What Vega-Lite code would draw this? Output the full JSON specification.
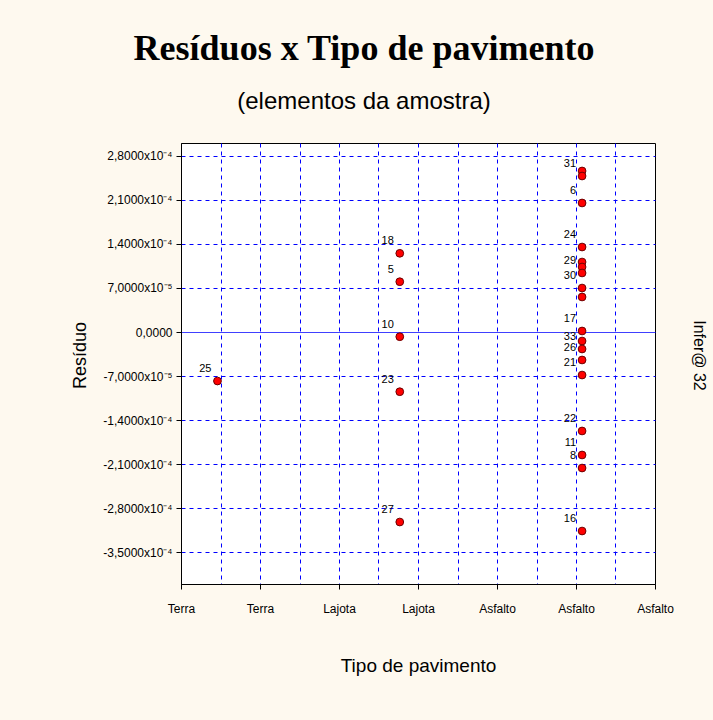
{
  "$schema": "https://vega.github.io/schema/vega-lite/v6.json",
  "autosize": "none",
  "width": 474,
  "height": 441,
  "padding": {"left": 181, "top": 143, "right": 58, "bottom": 136},
  "background": "#FEF9EF",
  "title": {
    "text": "Resíduos x Tipo de pavimento",
    "subtitle": "(elementos da amostra)",
    "anchor": "middle",
    "frame": "group",
    "dx": -54,
    "offset": 28,
    "font": "Liberation Serif",
    "fontSize": 36,
    "fontWeight": "bold",
    "color": "#000000",
    "subtitleFont": "Liberation Sans",
    "subtitleFontSize": 24,
    "subtitleColor": "#000000",
    "subtitlePadding": 22
  },
  "config": {
    "view": {"stroke": "#000000", "strokeWidth": 1, "fill": "#FFFFFF"},
    "axis": {"labelFont": "Liberation Sans", "titleFont": "Liberation Sans", "labelColor": "#000000", "titleColor": "#000000", "titleFontWeight": "normal"}
  },
  "data": {
    "values": [
      {"id": "25", "tipo": "Terra", "codigo": 1, "residuo": -7.78e-5},
      {"id": "18", "tipo": "Lajota", "codigo": 2, "residuo": 1.249e-4},
      {"id": "5", "tipo": "Lajota", "codigo": 2, "residuo": 7.98e-5},
      {"id": "10", "tipo": "Lajota", "codigo": 2, "residuo": -7.5e-6},
      {"id": "23", "tipo": "Lajota", "codigo": 2, "residuo": -9.48e-5},
      {"id": "27", "tipo": "Lajota", "codigo": 2, "residuo": -3.016e-4},
      {"id": "", "tipo": "Asfalto", "codigo": 3, "residuo": 2.556e-4},
      {"id": "31", "tipo": "Asfalto", "codigo": 3, "residuo": 2.476e-4},
      {"id": "6", "tipo": "Asfalto", "codigo": 3, "residuo": 2.048e-4},
      {"id": "24", "tipo": "Asfalto", "codigo": 3, "residuo": 1.349e-4},
      {"id": "", "tipo": "Asfalto", "codigo": 3, "residuo": 1.111e-4},
      {"id": "", "tipo": "Asfalto", "codigo": 3, "residuo": 1.032e-4},
      {"id": "29", "tipo": "Asfalto", "codigo": 3, "residuo": 9.37e-5},
      {"id": "30", "tipo": "Asfalto", "codigo": 3, "residuo": 6.98e-5},
      {"id": "", "tipo": "Asfalto", "codigo": 3, "residuo": 5.56e-5},
      {"id": "17", "tipo": "Asfalto", "codigo": 3, "residuo": 1.6e-6},
      {"id": "", "tipo": "Asfalto", "codigo": 3, "residuo": -1.43e-5},
      {"id": "33", "tipo": "Asfalto", "codigo": 3, "residuo": -2.7e-5},
      {"id": "26", "tipo": "Asfalto", "codigo": 3, "residuo": -4.44e-5},
      {"id": "21", "tipo": "Asfalto", "codigo": 3, "residuo": -6.83e-5},
      {"id": "22", "tipo": "Asfalto", "codigo": 3, "residuo": -1.571e-4},
      {"id": "11", "tipo": "Asfalto", "codigo": 3, "residuo": -1.952e-4},
      {"id": "8", "tipo": "Asfalto", "codigo": 3, "residuo": -2.159e-4},
      {"id": "16", "tipo": "Asfalto", "codigo": 3, "residuo": -3.159e-4}
    ]
  },
  "layer": [
    {
      "mark": {"type": "point", "filled": true, "shape": "circle", "size": 60, "fill": "#FF0000", "stroke": "#6B0000", "strokeWidth": 1, "opacity": 1},
      "encoding": {
        "x": {
          "field": "codigo",
          "type": "quantitative",
          "scale": {"domain": [0.8, 3.4], "nice": false, "zero": false},
          "axis": {
            "values": [0.8, 1.016667, 1.233333, 1.45, 1.666667, 1.883333, 2.1, 2.316667, 2.533333, 2.75, 2.966667, 3.183333, 3.4],
            "tickCount": 20,
            "labelExpr": "round((datum.value-0.8)*12/2.6) % 2 == 0 ? (datum.value < 1.5 ? 'Terra' : datum.value < 2.5 ? 'Lajota' : 'Asfalto') : ''",
            "labelOverlap": false,
            "labelFlush": false,
            "labelFontSize": 12,
            "labelPadding": 14,
            "tickColor": {"condition": {"test": "round((datum.value-0.8)*12/2.6) % 2 == 0", "value": "#000000"}, "value": "transparent"},
            "tickSize": 5,
            "domainColor": "#000000",
            "domainWidth": 1,
            "grid": true,
            "gridColor": "#0000FF",
            "gridDash": [4, 4],
            "gridWidth": 1,
            "gridOpacity": {"condition": {"test": "datum.value < 0.81 || datum.value > 3.39", "value": 0}, "value": 1},
            "title": "Tipo de pavimento",
            "titleFontSize": 19,
            "titleX": 237,
            "titleY": 81,
            "titleAlign": "center",
            "titleBaseline": "middle"
          }
        },
        "y": {
          "field": "residuo",
          "type": "quantitative",
          "scale": {"domain": [-0.0004, 0.0003], "nice": false, "zero": false},
          "axis": {
            "values": [-0.00035, -0.00028, -0.00021, -0.00014, -0.00007, 0, 0.00007, 0.00014, 0.00021, 0.00028],
            "tickCount": 20,
            "labelExpr": "datum.value == 0 ? '0,0000' : replace(replace(format(datum.value / pow(10, floor(log(abs(datum.value))/LN10)), '.4f'), '.', ','), '−', '-') + 'x10' + (floor(log(abs(datum.value))/LN10) == -4 ? '⁻⁴' : '⁻⁵')",
            "labelFontSize": 12,
            "labelPadding": 4,
            "labelOverlap": false,
            "tickColor": "#000000",
            "tickSize": 5,
            "domainColor": "#000000",
            "domainWidth": 1,
            "grid": true,
            "gridColor": "#0000FF",
            "gridDash": {"condition": {"test": "datum.value == 0", "value": [1, 0]}, "value": [4, 4]},
            "gridWidth": 1,
            "gridOpacity": 1,
            "title": "Resíduo",
            "titleFontSize": 18,
            "titleAngle": 270,
            "titleX": -101,
            "titleY": 212,
            "titleAlign": "center",
            "titleBaseline": "middle"
          }
        }
      }
    },
    {
      "mark": {"type": "text", "align": "right", "baseline": "alphabetic", "dx": -6, "dy": -9, "font": "Liberation Sans", "fontSize": 11, "color": "#000000"},
      "encoding": {
        "x": {"field": "codigo", "type": "quantitative", "scale": {"domain": [0.8, 3.4], "nice": false, "zero": false}},
        "y": {
          "field": "residuo",
          "type": "quantitative",
          "scale": {"domain": [-0.0004, 0.0003], "nice": false, "zero": false},
          "axis": {
            "orient": "right",
            "labels": false,
            "ticks": false,
            "domain": false,
            "grid": false,
            "title": "Infer@ 32",
            "titleFontSize": 16,
            "titleAngle": 90,
            "titleX": 43,
            "titleY": 212,
            "titleAlign": "center",
            "titleBaseline": "middle"
          }
        },
        "text": {"field": "id", "type": "nominal"}
      }
    }
  ],
  "resolve": {"axis": {"y": "independent"}}
}
